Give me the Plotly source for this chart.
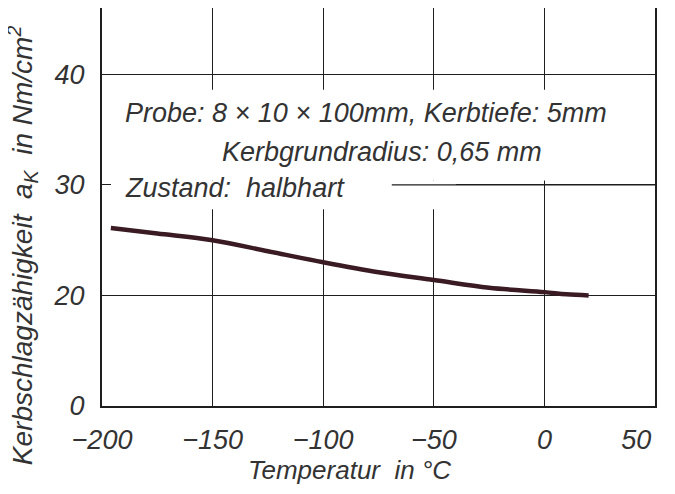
import plotly.graph_objects as go

# Data
temperature = [-196, -175, -150, -125, -100, -75, -50, -25, 0, 10, 20]
kerbschlag = [26.1, 25.6, 25.0, 24.0, 23.0, 22.1, 21.4, 20.7, 20.3, 20.1, 20.0]

x_tick_vals = [-200, -150, -100, -50, 0, 50]
x_tick_labels = ["\u2212200", "\u2212150", "\u2212100", "\u221250", "0", "50"]
# broken y axis in the original: the bottom line is labelled 0
y_tick_vals = [10, 20, 30, 40]
y_tick_labels = ["0", "20", "30", "40"]

FONT = "Liberation Sans, Arial, sans-serif"
INK = "#1e1e1e"
TXT = "#333333"

fig = go.Figure()
fig.add_trace(go.Scatter(
    x=temperature, y=kerbschlag, mode="lines",
    line=dict(color="#3a1b23", width=4.5, shape="spline"),
    showlegend=False, hoverinfo="skip"))

axis_common = dict(
    showgrid=True, gridcolor=INK, gridwidth=1.3,
    showline=True, linecolor=INK, linewidth=2.2, mirror=True,
    zeroline=False, automargin=False,
    tickfont=dict(family=FONT, size=27, color=TXT),
)

# last x label sits inside the frame in the original -> pad it on the right
x_text = ["<i>%s</i>" % t for t in x_tick_labels]
x_text[-1] = "<i>%s</i>" % x_tick_labels[-1] + "\u00a0" * 5

fig.update_xaxes(range=[-200, 50], tickmode="array", tickvals=x_tick_vals,
                 ticktext=x_text, ticks="", ticklabelstandoff=8,
                 ticklabeloverflow="allow", **axis_common)
fig.update_yaxes(range=[10, 46], tickmode="array", tickvals=y_tick_vals,
                 ticktext=["<i>%s</i>" % t for t in y_tick_labels],
                 ticks="inside", ticklen=9,
                 tickcolor=INK, tickwidth=1.3, ticklabelstandoff=10,
                 **axis_common)

# white masks behind the text block (above grid, below traces)
fig.add_shape(type="rect", x0=-200, x1=32, y0=30.4, y1=38.6, layer="between",
              fillcolor="white", line=dict(width=0))
fig.add_shape(type="rect", x0=-200, x1=-40, y0=27.8, y1=30.4, layer="between",
              fillcolor="white", line=dict(width=0))
fig.add_shape(type="line", x0=-69, x1=50, y0=30, y1=30, layer="between",
              line=dict(color=INK, width=1.3))

txt_font = dict(family=FONT, size=27, color=TXT, style="italic")
fig.add_annotation(x=-190.5, y=36.5, xanchor="left", yanchor="middle",
                   text="Probe: 8 \u00d7 10 \u00d7 100mm, Kerbtiefe: 5mm",
                   showarrow=False, font=txt_font)
fig.add_annotation(x=-146.7, y=33.0, xanchor="left", yanchor="middle",
                   text="Kerbgrundradius: 0,65 mm",
                   showarrow=False, font=txt_font)
fig.add_annotation(x=-190.5, y=29.7, xanchor="left", yanchor="middle",
                   text="Zustand:  halbhart",
                   showarrow=False, font=txt_font)

# axis titles
fig.add_annotation(xref="paper", yref="paper", x=0.448, y=-0.161,
                   xanchor="center", yanchor="middle",
                   text="Temperatur  in \u00b0C", showarrow=False,
                   font=dict(family=FONT, size=26, color=TXT, style="italic"))
fig.add_annotation(xref="paper", yref="paper", x=-0.144, y=0.405,
                   xanchor="center", yanchor="middle", textangle=-90,
                   text="Kerbschlagz\u00e4higkeit  a<sub>K</sub>  in Nm/cm<sup>2</sup>",
                   showarrow=False,
                   font=dict(family=FONT, size=28, color=TXT, style="italic"))

fig.update_layout(
    width=667, height=486,
    margin=dict(l=94, r=20, t=0, b=88, autoexpand=False),
    paper_bgcolor="white", plot_bgcolor="white",
)

fig.write_html("out.html")
